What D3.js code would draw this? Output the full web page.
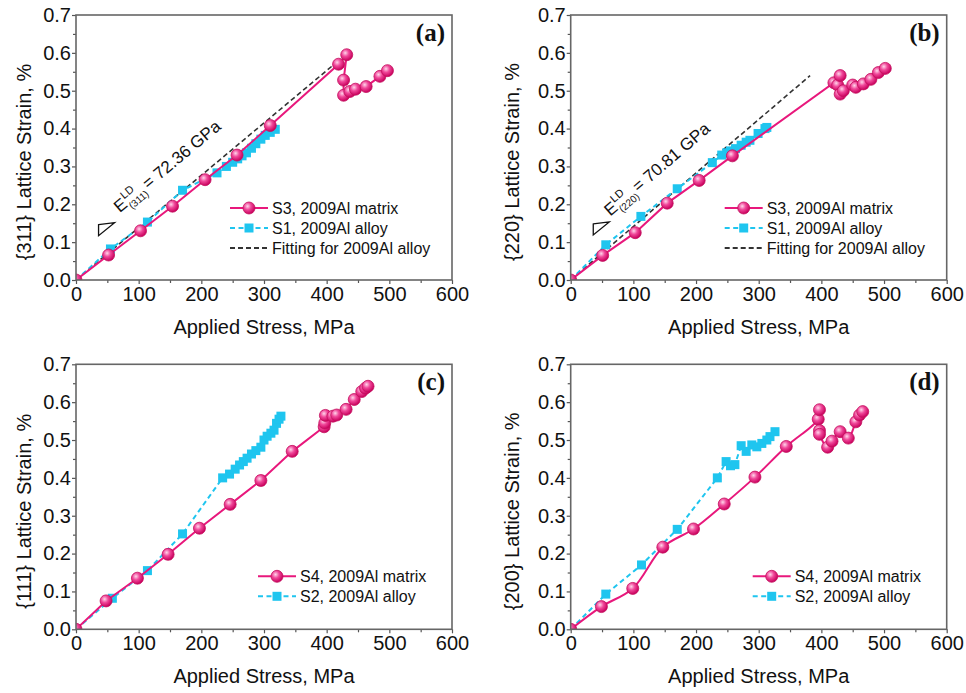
<!DOCTYPE html>
<html>
<head>
<meta charset="utf-8">
<script src="https://cdn.jsdelivr.net/npm/d3@7"></script>
<style>
  body { margin: 0; background: #fff; }
  text { font-family: Arial, "Liberation Sans", sans-serif; fill: #111; }
</style>
</head>
<body>
<svg id="chart" width="966" height="693"></svg>
<script>
// ---- data: [applied stress MPa, lattice strain %] ----------------------------
const s3Matrix311 = [[0,0],[52,0.066],[103,0.13],[154,0.195],[206,0.265],[257,0.33],[310,0.408],
  [419,0.57],[432,0.595],[427,0.528],[427,0.488],[437,0.498],[446,0.504],[463,0.511],[485,0.538],[497,0.553]];
const s1Alloy311 = [[0,0],[55,0.082],[114,0.153],[170,0.237],[225,0.283],[240,0.300],[250,0.311],
  [258,0.32],[265,0.328],[272,0.336],[280,0.348],[287,0.36],[295,0.372],[302,0.382],[310,0.39],[318,0.398]];
const fit311 = [[0,0],[410,0.567]];

const s3Matrix220 = [[0,0],[51,0.065],[103,0.125],[154,0.203],[205,0.263],[258,0.328],[420,0.521],
  [426,0.515],[430,0.54],[430,0.491],[435,0.5],[450,0.515],[455,0.509],[467,0.518],[479,0.53],[491,0.548],[502,0.559]];
const s1Alloy220 = [[0,0],[56,0.093],[112,0.168],[170,0.241],[226,0.31],[241,0.330],[249,0.336],
  [255,0.341],[263,0.347],[272,0.356],[280,0.364],[286,0.369],[299,0.387],[310,0.40],[313,0.403]];
const fit220 = [[0,0],[382,0.54]];

const s4Matrix111 = [[0,0],[48,0.075],[98,0.135],[147,0.198],[197,0.267],[246,0.33],[295,0.393],
  [345,0.47],[396,0.535],[397,0.545],[398,0.565],[410,0.563],[416,0.566],[431,0.581],[444,0.607],
  [456,0.628],[462,0.637],[466,0.642]];
const s4Err111 = [0,0.012,0.012,0.013,0.012,0.012,0.013,0.012,0.012,0.01,0.013,0.01,0.01,0.01,0.01,0.01,0.01,0.008];
const s2Alloy111 = [[0,0],[58,0.082],[114,0.155],[170,0.252],[234,0.40],[245,0.41],[254,0.423],
  [261,0.434],[267,0.443],[273,0.452],[280,0.463],[287,0.472],[295,0.481],[300,0.50],[305,0.51],
  [311,0.518],[316,0.526],[320,0.544],[324,0.555],[327,0.563]];
const s2Err111 = [0,0.008,0.008,0.009,0.008,0.008,0.008,0.008,0.008,0.008,0.008,0.008,0.008,0.008,0.008,0.008,0.008,0.008,0.008,0.008];

const s4Matrix200 = [[0,0],[49,0.06],[99,0.108],[147,0.217],[196,0.265],[245,0.331],[294,0.402],
  [344,0.483],[395,0.555],[397,0.58],[397,0.525],[397,0.515],[410,0.481],[417,0.497],[430,0.522],
  [443,0.505],[455,0.548],[461,0.566],[466,0.575]];
const s2Alloy200 = [[0,0],[56,0.093],[113,0.17],[170,0.264],[234,0.40],[248,0.443],[255,0.432],
  [262,0.435],[272,0.485],[280,0.47],[289,0.487],[297,0.482],[305,0.491],[313,0.5],[318,0.509],[326,0.522]];

const xTicks = [0, 100, 200, 300, 400, 500, 600];
const xMinor = [50, 150, 250, 350, 450, 550];
const yTicks = [0, 0.1, 0.2, 0.3, 0.4, 0.5, 0.6, 0.7];
const yMinor = [0.05, 0.15, 0.25, 0.35, 0.45, 0.55, 0.65];

const PINK = '#e8187c';
const CYAN = '#1fc5ef';

// ---- panels -----------------------------------------------------------------------
const panels = [
  { id: 'a', left: 76, top: 15, titleX: 31, hkl: '{311}', matrix: s3Matrix311, alloy: s1Alloy311, fit: fit311,
    modulus: '72.36', plane: '(311)', annot: [70, 0.176], tri: [36, 0.146],
    legend: ['S3, 2009Al matrix', 'S1, 2009Al alloy', 'Fitting for 2009Al alloy'], legX: 154, legY: 193 },
  { id: 'b', left: 570.7, top: 15, titleX: 519, hkl: '{220}', matrix: s3Matrix220, alloy: s1Alloy220, fit: fit220,
    modulus: '70.81', plane: '(220)', annot: [63, 0.167], tri: [36, 0.148],
    legend: ['S3, 2009Al matrix', 'S1, 2009Al alloy', 'Fitting for 2009Al alloy'], legX: 154, legY: 193 },
  { id: 'c', left: 76, top: 364.3, titleX: 31, hkl: '{111}', matrix: s4Matrix111, alloy: s2Alloy111,
    matrixErr: s4Err111, alloyErr: s2Err111,
    legend: ['S4, 2009Al matrix', 'S2, 2009Al alloy'], legX: 182, legY: 212 },
  { id: 'd', left: 570.7, top: 364.3, titleX: 519, hkl: '{200}', matrix: s4Matrix200, alloy: s2Alloy200, smooth: true,
    legend: ['S4, 2009Al matrix', 'S2, 2009Al alloy'], legX: 182, legY: 212 }
];

const W = 376, H = 265;
const svg = d3.select('#chart');

const defs = svg.append('defs');
const grad = defs.append('radialGradient').attr('id', 'ball')
  .attr('cx', '38%').attr('cy', '35%').attr('r', '65%');
grad.append('stop').attr('offset', '0%').attr('stop-color', '#ffd6ea');
grad.append('stop').attr('offset', '45%').attr('stop-color', '#f0489a');
grad.append('stop').attr('offset', '100%').attr('stop-color', '#c8005c');

const x = d3.scaleLinear().domain([0, 600]).range([0, W]);
const y = d3.scaleLinear().domain([0, 0.7]).range([H, 0]);

function ball(sel) {
  sel.attr('r', 6).attr('fill', 'url(#ball)').attr('stroke', '#c4105e').attr('stroke-width', 0.8);
}
function square(sel) {
  sel.attr('width', 9).attr('height', 9).attr('fill', CYAN);
}

panels.forEach(p => {
  const g = svg.append('g').attr('transform', 'translate(' + p.left + ',' + p.top + ')');

  defs.append('clipPath').attr('id', 'clip-' + p.id)
    .append('rect').attr('width', W).attr('height', H);

  // axes
  const styleAxis = a => {
    a.select('.domain').remove();
    a.selectAll('line').attr('stroke', '#555').attr('stroke-width', 1.2);
    a.selectAll('text').style('font-size', '20px').attr('fill', '#111');
  };
  g.append('g').attr('transform', 'translate(0,' + H + ')')
    .call(d3.axisBottom(x).tickValues(xTicks).tickSize(4).tickPadding(3).tickFormat(d3.format('d')))
    .call(styleAxis);
  g.append('g').attr('transform', 'translate(0,' + H + ')')
    .call(d3.axisBottom(x).tickValues(xMinor).tickSize(3).tickFormat(''))
    .call(styleAxis);
  g.append('g')
    .call(d3.axisLeft(y).tickValues(yTicks).tickSize(4).tickPadding(1).tickFormat(d3.format('.1f')))
    .call(styleAxis);
  g.append('g')
    .call(d3.axisLeft(y).tickValues(yMinor).tickSize(3).tickFormat(''))
    .call(styleAxis);

  // axis titles
  g.append('text').attr('x', W / 2).attr('y', H + 54).attr('text-anchor', 'middle')
    .style('font-size', '20px').text('Applied Stress, MPa');
  svg.append('text').attr('transform', 'translate(' + p.titleX + ',' + (p.top + 147) + ') rotate(-90)')
    .attr('text-anchor', 'middle').style('font-size', '20px').text(p.hkl + ' Lattice Strain, %');

  const plot = g.append('g').attr('clip-path', 'url(#clip-' + p.id + ')');

  // fitting line
  if (p.fit) {
    plot.append('path').datum(p.fit)
      .attr('d', d3.line().x(d => x(d[0])).y(d => y(d[1])))
      .attr('fill', 'none').attr('stroke', '#333').attr('stroke-width', 1.6).attr('stroke-dasharray', '5,3');
  }

  // alloy series (cyan dashed, squares)
  plot.append('path').datum(p.alloy)
    .attr('d', d3.line().x(d => x(d[0])).y(d => y(d[1])))
    .attr('fill', 'none').attr('stroke', CYAN).attr('stroke-width', 2).attr('stroke-dasharray', '5,3.5');
  if (p.alloyErr) {
    plot.selectAll('.errA').data(p.alloy).enter().append('path')
      .attr('d', (d, i) => {
        const e = p.alloyErr[i], cx = x(d[0]);
        return 'M' + cx + ',' + y(d[1] - e) + 'V' + y(d[1] + e)
          + 'M' + (cx - 3) + ',' + y(d[1] + e) + 'h6M' + (cx - 3) + ',' + y(d[1] - e) + 'h6';
      })
      .attr('stroke', CYAN).attr('stroke-width', 1);
  }
  plot.selectAll('.sq').data(p.alloy).enter().append('rect')
    .attr('x', d => x(d[0]) - 4.5).attr('y', d => y(d[1]) - 4.5).call(square);

  // matrix series (pink solid, balls)
  const mLine = d3.line().x(d => x(d[0])).y(d => y(d[1]));
  if (p.smooth) mLine.curve(d3.curveCatmullRom.alpha(0.5));
  plot.append('path').datum(p.matrix)
    .attr('d', mLine)
    .attr('fill', 'none').attr('stroke', PINK).attr('stroke-width', 2);
  if (p.matrixErr) {
    plot.selectAll('.errM').data(p.matrix).enter().append('path')
      .attr('d', (d, i) => {
        const e = p.matrixErr[i], cx = x(d[0]);
        return 'M' + cx + ',' + y(d[1] - e) + 'V' + y(d[1] + e)
          + 'M' + (cx - 3.5) + ',' + y(d[1] + e) + 'h7M' + (cx - 3.5) + ',' + y(d[1] - e) + 'h7';
      })
      .attr('stroke', PINK).attr('stroke-width', 1.2);
  }
  plot.selectAll('.ball').data(p.matrix).enter().append('circle')
    .attr('cx', d => x(d[0])).attr('cy', d => y(d[1])).call(ball);

  // frame
  g.append('rect').attr('width', W).attr('height', H)
    .attr('fill', 'none').attr('stroke', '#666').attr('stroke-width', 1.6);

  // panel label
  g.append('text').attr('x', W - 7).attr('y', 26).attr('text-anchor', 'end')
    .style('font-family', '"Times New Roman", "Liberation Serif", serif')
    .style('font-weight', 'bold').style('font-size', '25px').text('(' + p.id + ')');

  // modulus annotation + slope triangle
  if (p.fit) {
    const f = p.fit[1];
    const ang = Math.atan2(y(0) - y(f[1]), x(f[0]) - x(0)) * 180 / Math.PI;
    const t = g.append('text')
      .attr('transform', 'translate(' + x(p.annot[0]) + ',' + y(p.annot[1]) + ') rotate(' + (-ang) + ')')
      .style('font-size', '17px');
    t.append('tspan').attr('x', 0).attr('y', 0).text('E');
    t.append('tspan').attr('x', 12).attr('y', -8).style('font-size', '11px').text('LD');
    t.append('tspan').attr('x', 12).attr('y', 5).style('font-size', '10px').text(p.plane);
    t.append('tspan').attr('x', 37).attr('y', 0).text('= ' + p.modulus + ' GPa');

    const tx = x(p.tri[0]), ty = y(p.tri[1]);
    g.append('path')
      .attr('d', 'M' + tx + ',' + ty + 'l16,-2l-16,13z')
      .attr('fill', 'none').attr('stroke', '#111').attr('stroke-width', 1.3);
  }

  // legend
  const leg = g.append('g').attr('transform', 'translate(' + p.legX + ',' + p.legY + ')');
  const rows = [
    { stroke: PINK, dash: null, mark: 'ball' },
    { stroke: CYAN, dash: '5,3.5', mark: 'sq' },
    { stroke: '#333', dash: '5,3', mark: null }
  ];
  p.legend.forEach((label, i) => {
    const r = rows[i];
    const ry = i * 20;
    leg.append('line').attr('x1', 0).attr('x2', 38).attr('y1', ry).attr('y2', ry)
      .attr('stroke', r.stroke).attr('stroke-width', 2).attr('stroke-dasharray', r.dash);
    if (r.mark === 'ball') leg.append('circle').attr('cx', 19).attr('cy', ry).call(ball);
    if (r.mark === 'sq') leg.append('rect').attr('x', 14.5).attr('y', ry - 4.5).call(square);
    leg.append('text').attr('x', 42).attr('y', ry).attr('dy', '0.35em')
      .style('font-size', '16px').text(label);
  });
});
</script>
</body>
</html>
